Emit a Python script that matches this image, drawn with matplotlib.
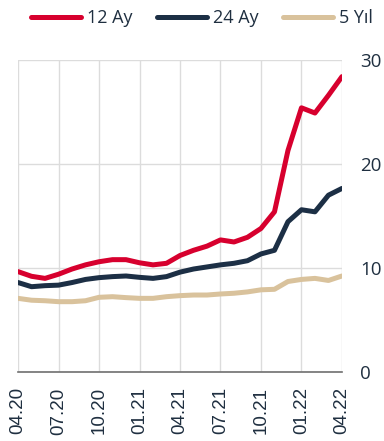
import matplotlib.pyplot as plt
import numpy as np

plt.rcParams['font.family'] = ['Open Sans', 'DejaVu Sans']

# monthly observations, 04.20 .. 04.22
months = ['04.20', '05.20', '06.20', '07.20', '08.20', '09.20', '10.20', '11.20', '12.20',
          '01.21', '02.21', '03.21', '04.21', '05.21', '06.21', '07.21', '08.21', '09.21',
          '10.21', '11.21', '12.21', '01.22', '02.22', '03.22', '04.22']
ay12 = [9.65, 9.2, 9.0, 9.4, 9.9, 10.3, 10.6, 10.8, 10.8, 10.5, 10.3, 10.45, 11.2,
        11.7, 12.1, 12.7, 12.5, 12.95, 13.8, 15.4, 21.3, 25.4, 24.9, 26.6, 28.4]
ay24 = [8.6, 8.2, 8.3, 8.35, 8.6, 8.9, 9.07, 9.17, 9.23, 9.1, 9.0, 9.17, 9.6,
        9.9, 10.1, 10.3, 10.45, 10.7, 11.35, 11.7, 14.45, 15.6, 15.4, 17.0, 17.65]
yil5 = [7.08, 6.9, 6.85, 6.76, 6.76, 6.85, 7.18, 7.24, 7.15, 7.08, 7.08, 7.24, 7.34,
        7.4, 7.4, 7.5, 7.57, 7.7, 7.9, 7.95, 8.7, 8.9, 9.0, 8.8, 9.23]

red = '#d7002e'
navy = '#1c2f45'
beige = '#d9c29c'
txt = '#1f2f40'

fig = plt.figure(figsize=(3.84, 4.41), dpi=100)
ax = fig.add_axes([0.047, 0.1565, 0.8435, 0.7075])

x = np.arange(len(months))
for vals, c, lab in [(ay12, red, '12 Ay'), (ay24, navy, '24 Ay'), (yil5, beige, '5 Yıl')]:
    ax.plot(x, vals, color=c, lw=3.6, label=lab, solid_capstyle='round',
            solid_joinstyle='round', zorder=3)

ax.set_xlim(0, len(months) - 1)
ax.set_ylim(0, 30)
ax.set_yticks([0, 10, 20, 30])
ax.set_xticks(x[::3])
ax.set_xticklabels(months[::3], rotation=90, fontsize=13.5, color=txt,
                   family='Liberation Sans')
ax.yaxis.tick_right()
ax.tick_params(axis='y', length=0, pad=13, labelsize=13.5, labelcolor=txt)
ax.tick_params(axis='x', length=0, pad=11)

ax.grid(True, color='#dcdcdc', lw=1.0, zorder=0)
for s in ['top', 'right', 'left']:
    ax.spines[s].set_visible(False)
ax.spines['bottom'].set_color('#707070')
ax.spines['bottom'].set_linewidth(1.2)

leg = fig.legend(loc='upper left', bbox_to_anchor=(0.082, 0.979), ncol=3, frameon=False,
                 fontsize=13, handlelength=2.75, handletextpad=0.35, columnspacing=1.35,
                 borderpad=0, borderaxespad=0, labelcolor=txt)
for h in leg.get_lines():
    h.set_linewidth(3.6)
    h.set_solid_capstyle('round')

fig.savefig('out.png', dpi=100)
